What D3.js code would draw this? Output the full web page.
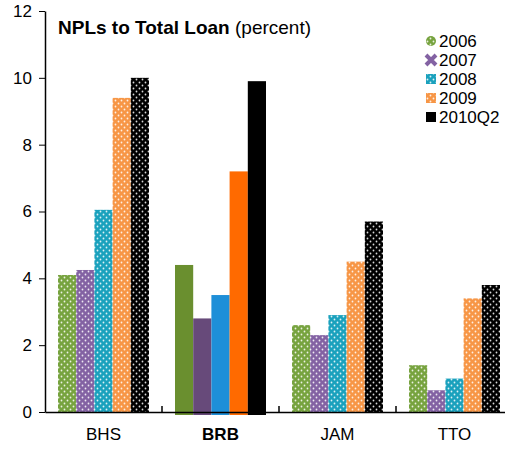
<!DOCTYPE html>
<html><head><meta charset="utf-8">
<script src="https://cdn.jsdelivr.net/npm/d3@7"></script>
<style>body{margin:0;background:#fff}text{font-family:Arial,"Liberation Sans",sans-serif}</style>
</head><body>
<svg id="c" width="505" height="449"></svg>
<script>
var countries = ["BHS", "BRB", "JAM", "TTO"]
var years = ["2006", "2007", "2008", "2009", "2010Q2"]
var values = {
    "BHS": [4.1, 4.25, 6.05, 9.4, 10.0],
    "BRB": [4.4, 2.8, 3.5, 7.2, 9.9],
    "JAM": [2.6, 2.3, 2.9, 4.5, 5.7],
    "TTO": [1.4, 0.65, 1.0, 3.4, 3.8]
}
var yTicks = [0, 2, 4, 6, 8, 10, 12]
var dotted = ["#77a33f", "#8362a3", "#1aa1bd", "#f79646", "#000000"]
var solid = ["#6a8f2f", "#674a7a", "#1e8fd8", "#ff6a00", "#000000"]

var svg = d3.select("#c")
var x = d3.scaleBand().domain(countries).range([45, 513]).paddingInner(0).paddingOuter(0)
var xi = d3.scaleBand().domain(years).range([13, 104]).padding(0)
var y = d3.scaleLinear().domain([0, 12]).range([412, 11])

var defs = svg.append("defs")
dotted.forEach((c, i) => {
    var p = defs.append("pattern").attr("id", "p" + i).attr("patternUnits", "userSpaceOnUse")
        .attr("width", 6).attr("height", 6)
    p.append("rect").attr("width", 6).attr("height", 6).attr("fill", c)
    p.append("circle").attr("cx", 1.5).attr("cy", 1.5).attr("r", 0.9).attr("fill", "#fff").attr("opacity", 0.85)
    p.append("circle").attr("cx", 4.5).attr("cy", 4.5).attr("r", 0.9).attr("fill", "#fff").attr("opacity", 0.85)
})

countries.forEach(cn => {
    var g = svg.append("g").attr("transform", `translate(${x(cn)},0)`)
    g.selectAll("rect").data(values[cn]).join("rect")
        .attr("x", (d, i) => xi(years[i]))
        .attr("width", xi.bandwidth())
        .attr("y", d => y(d))
        .attr("height", d => y(0) - y(d) + (cn == "BRB" ? 3 : 0))
        .attr("fill", (d, i) => cn == "BRB" ? solid[i] : `url(#p${i})`)
})

var ya = svg.append("g").attr("transform", "translate(45,0)")
    .call(d3.axisLeft(y).tickValues(yTicks).tickSize(6).tickSizeOuter(0))
ya.select(".domain").attr("stroke-width", 1.5)
ya.selectAll("text").attr("font-size", 17).attr("fill", "#000").attr("dx", -4)

var xa = svg.append("g").attr("transform", `translate(0,${y(0)})`)
    .call(d3.axisBottom(x).tickSize(0).tickSizeOuter(0).tickPadding(16))
xa.select(".domain").attr("stroke-width", 1.5)
xa.selectAll("text").attr("font-size", 17).attr("fill", "#000")
    .attr("font-weight", d => d == "BRB" ? "bold" : "normal")
x.domain().slice(1).forEach(cn => {
    xa.append("line").attr("x1", x(cn)).attr("x2", x(cn)).attr("y1", 0).attr("y2", -6).attr("stroke", "#000").attr("stroke-width", 1.5)
})

var t = svg.append("text").attr("x", 58).attr("y", 34).attr("font-size", 19)
t.append("tspan").attr("font-weight", "bold").text("NPLs to Total Loan")
t.append("tspan").text(" (percent)")

var lg = svg.append("g").attr("transform", "translate(426,34)")
years.forEach((yr, i) => {
    var r = lg.append("g").attr("transform", `translate(0,${i * 19})`)
    if (i == 0) r.append("circle").attr("cx", 5).attr("cy", 7).attr("r", 5).attr("fill", `url(#p0)`)
    else if (i == 1) r.append("path").attr("d", "M0,2L10,12M10,2L0,12").attr("stroke", dotted[1]).attr("stroke-width", 4)
    else r.append("rect").attr("x", 0).attr("y", 2).attr("width", 10).attr("height", 10).attr("fill", i == 4 ? "#000" : `url(#p${i})`)
    r.append("text").attr("x", 13).attr("y", 13).attr("font-size", 17).text(yr)
})
</script>
</body></html>
